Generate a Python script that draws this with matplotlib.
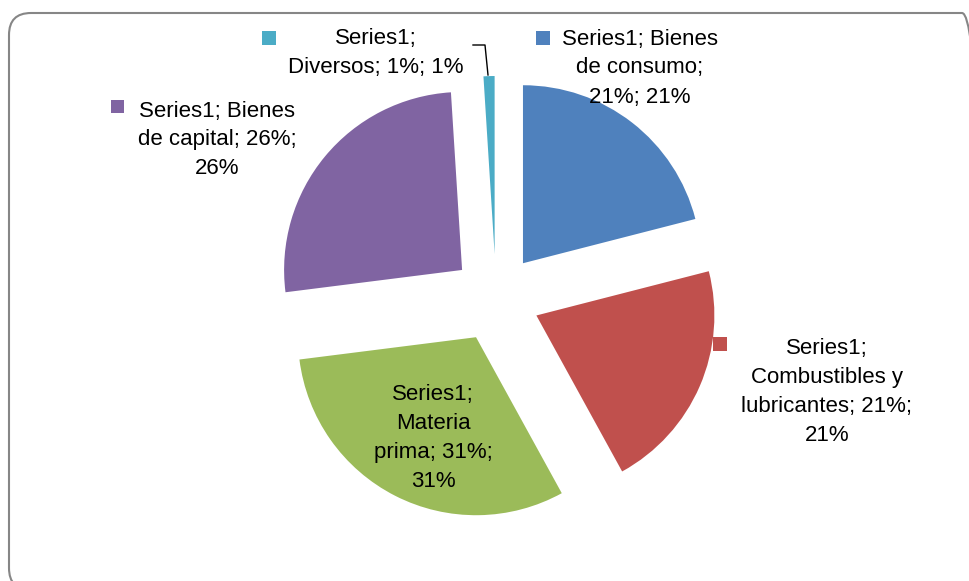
import matplotlib
matplotlib.use("Agg")
import matplotlib.pyplot as plt
from matplotlib.patches import FancyBboxPatch, Rectangle
from matplotlib import font_manager

# ---- data ----
series_name = "Series1"
categories = ["Bienes de consumo", "Combustibles y lubricantes", "Materia prima",
              "Bienes de capital", "Diversos"]
values = [21, 21, 31, 26, 1]
colors = ["#4F81BD", "#C0504D", "#9BBB59", "#8064A2", "#4BACC6"]
label_texts = [
    "Series1; Bienes\nde consumo;\n21%; 21%",
    "Series1;\nCombustibles y\nlubricantes; 21%;\n21%",
    "Series1;\nMateria\nprima; 31%;\n31%",
    "Series1; Bienes\nde capital; 26%;\n26%",
    "Series1;\nDiversos; 1%; 1%",
]

W, H = 970, 581
avail = {f.name for f in font_manager.fontManager.ttflist}
fam = "Liberation Sans Narrow" if "Liberation Sans Narrow" in avail else "Liberation Sans"

fig = plt.figure(figsize=(W / 100, H / 100), dpi=100)
ax = fig.add_axes([0, 0, 1, 1])

def Y(y):
    return H - y

ax.pie(values, colors=colors, startangle=90, counterclock=False,
       center=(496, Y(298)), radius=178, explode=[44] * len(values),
       wedgeprops=dict(linewidth=0))
ax.set_xlim(0, W)
ax.set_ylim(0, H)
ax.set_aspect("auto")
ax.axis("off")

# outer rounded frame
frame = FancyBboxPatch((9, Y(590)), 975, 577, boxstyle="round,pad=0,rounding_size=22",
                       facecolor="none", edgecolor="#868686", linewidth=1.5,
                       clip_on=False, zorder=0)
ax.add_patch(frame)

# label placement (text centre x, centre y, square centre or None)
label_pos = [
    (640, 68, (543, 38)),
    (827, 392, (720, 344)),
    (433, 438, None),
    (217, 140, (117.5, 106.5)),
    (376, 53, (269, 38)),
]
fs = 16
for txt, (cx, cy, sq), col in zip(label_texts, label_pos, colors):
    ax.text(cx, Y(cy), txt, ha="center", va="center", multialignment="center",
            fontsize=fs, family=fam, color="black", linespacing=1.5, zorder=5)
    if sq is not None:
        s = 13.5
        ax.add_patch(Rectangle((sq[0] - s / 2, Y(sq[1]) - s / 2), s, s,
                               facecolor=col, edgecolor="none", zorder=5))

# leader line for the small slice
ax.plot([473, 485, 488], [Y(45), Y(45), Y(75)], color="black", lw=1, zorder=4)

fig.savefig("out.png", dpi=100)
